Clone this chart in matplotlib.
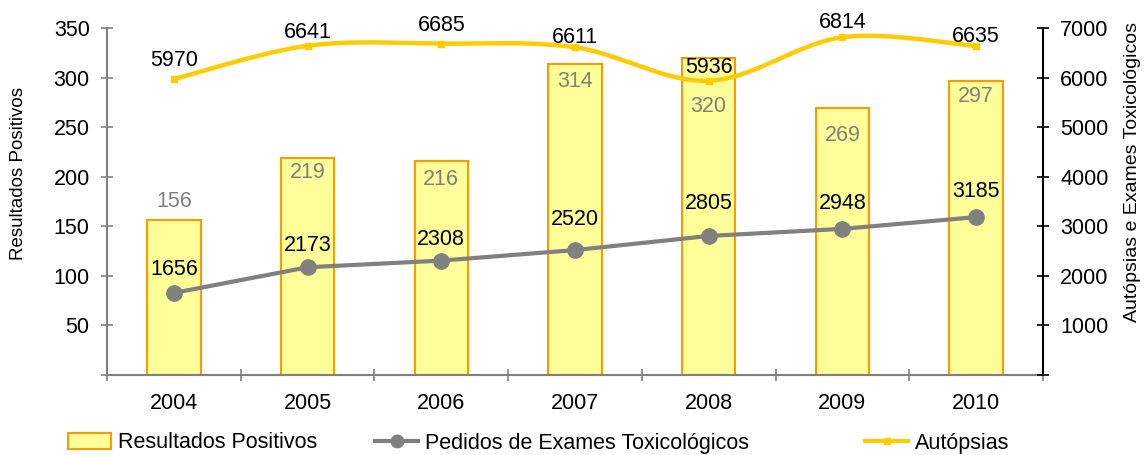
import numpy as np
import matplotlib
matplotlib.use("Agg")
import matplotlib.pyplot as plt
from matplotlib.patches import Patch
from matplotlib.lines import Line2D

years = ["2004", "2005", "2006", "2007", "2008", "2009", "2010"]
positivos = [156, 219, 216, 314, 320, 269, 297]
pedidos = [1656, 2173, 2308, 2520, 2805, 2948, 3185]
autopsias = [5970, 6641, 6685, 6611, 5936, 6814, 6635]

plt.rcParams["font.family"] = ["Liberation Sans", "DejaVu Sans"]

BAR_FILL = "#FFFF99"
BAR_EDGE = "#FF9900"
GRAY = "#808080"
GOLD = "#FFCC00"
FS = 15.5


def catmull_rom(xs, ys, n=40):
    """Smooth curve through the given points (Excel-style smoothed line)."""
    px = np.concatenate([[xs[0]], xs, [xs[-1]]])
    py = np.concatenate([[ys[0]], ys, [ys[-1]]])
    outx, outy = [], []
    for i in range(1, len(px) - 2):
        p0, p1, p2, p3 = (np.array([px[j], py[j]]) for j in (i - 1, i, i + 1, i + 2))
        c1 = p1 + (p2 - p0) / 6.0
        c2 = p2 - (p3 - p1) / 6.0
        t = np.linspace(0, 1, n)[:, None]
        pts = ((1 - t) ** 3) * p1 + 3 * ((1 - t) ** 2) * t * c1 + 3 * (1 - t) * t ** 2 * c2 + t ** 3 * p2
        outx.extend(pts[:, 0])
        outy.extend(pts[:, 1])
    return np.array(outx), np.array(outy)


fig = plt.figure(figsize=(11.45, 4.55), dpi=100)
ax = fig.add_axes([107 / 1145, 1 - 375 / 455, (1043 - 107) / 1145, (375 - 28) / 455])
ax2 = ax.twinx()

x = np.arange(len(years))

# Bars: positive results (left axis)
ax.bar(x, positivos, width=0.4, color=BAR_FILL, edgecolor=BAR_EDGE, linewidth=1.5, zorder=2)
ax.set_xlim(-0.5, len(years) - 0.5)
ax.set_ylim(0, 350)
ax.set_yticks(np.arange(0, 351, 50))
ax.set_yticklabels([""] + [str(v) for v in range(50, 351, 50)])
ax.set_xticks(x)
ax.set_xticklabels(years)
ax.set_xticks(np.arange(-0.5, len(years), 1.0), minor=True)
ax.tick_params(axis="x", which="major", length=0, labelsize=FS, pad=13)
ax.tick_params(axis="x", which="minor", direction="inout", length=9, color=GRAY, width=1.2)
ax.tick_params(axis="y", direction="inout", length=9, color=GRAY, width=1.2, labelsize=FS, pad=8)
for side in ("top", "right"):
    ax.spines[side].set_visible(False)
ax.spines["left"].set_color(GRAY)
ax.spines["bottom"].set_color(GRAY)
ax.spines["left"].set_linewidth(1.5)
ax.spines["bottom"].set_linewidth(1.5)
ax.set_ylabel("Resultados Positivos", fontsize=13.5)
ax.yaxis.set_label_coords(-0.086, 0.58)

bar_offsets = [19, -15, -19, -18, -49, -27, -16]
for xi, v, off in zip(x, positivos, bar_offsets):
    ax.annotate(str(v), (xi, v), xytext=(0, off), textcoords="offset pixels",
                ha="center", va="center", color=GRAY, fontsize=FS, zorder=5)

# Lines on right axis
ax2.set_ylim(0, 7000)
ax2.set_yticks(np.arange(0, 7001, 1000))
ax2.set_yticklabels([""] + [str(v) for v in range(1000, 7001, 1000)])
ax2.tick_params(axis="y", direction="inout", length=9, color="black", width=1.2, labelsize=FS, pad=8)
for side in ("top", "left", "bottom"):
    ax2.spines[side].set_visible(False)
ax2.spines["right"].set_color("black")
ax2.spines["right"].set_linewidth(1.5)
ax2.set_ylabel("Autópsias e Exames Toxicológicos", fontsize=14)
ax2.yaxis.set_label_coords(1.087, 0.585)

ax2.plot(x, pedidos, color=GRAY, linewidth=3, marker="o", markersize=11, zorder=3)

sx, sy = catmull_rom(x.astype(float), np.array(autopsias, dtype=float))
ax2.plot(sx, sy, color=GOLD, linewidth=3.2, zorder=3, solid_capstyle="round")
ax2.plot(x, autopsias, linestyle="none", marker="s", markersize=5, color=GOLD, zorder=4)

ped_offsets = [23, 22, 21, 31, 32, 25, 26]
for xi, v, off in zip(x, pedidos, ped_offsets):
    ax2.annotate(str(v), (xi, v), xytext=(0, off), textcoords="offset pixels",
                 ha="center", va="center", color="black", fontsize=FS, zorder=6)

aut_offsets = [19, 13, 18, 10, 13, 15, 10]
for xi, v, off in zip(x, autopsias, aut_offsets):
    ax2.annotate(str(v), (xi, v), xytext=(0, off), textcoords="offset pixels",
                 ha="center", va="center", color="black", fontsize=FS, zorder=6)

# Legend entries placed along the bottom
entries = [
    (Patch(facecolor=BAR_FILL, edgecolor=BAR_EDGE, linewidth=1.5), "Resultados Positivos", 68 / 1145),
    (Line2D([], [], color=GRAY, linewidth=3, marker="o", markersize=9), "Pedidos de Exames Toxicológicos", 375 / 1145),
    (Line2D([], [], color=GOLD, linewidth=3, marker="s", markersize=4), "Autópsias", 865 / 1145),
]
for handle, label, xpos in entries:
    fig.legend([handle], [label], loc="center left", bbox_to_anchor=(xpos, 1 - 443 / 455),
               frameon=False, fontsize=FS, handlelength=2.0, handletextpad=0.3,
               borderpad=0, borderaxespad=0)

fig.savefig("out.png", dpi=100)
